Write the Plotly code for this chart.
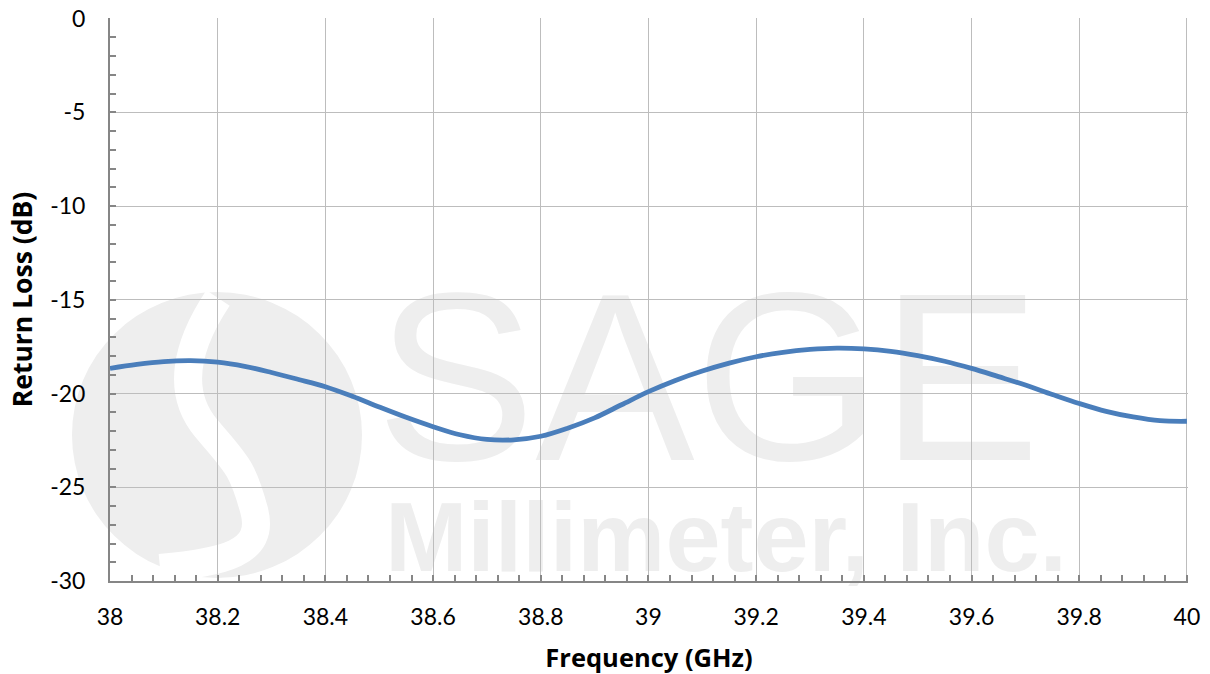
import plotly.graph_objects as go

# ---- data ----
freq_ghz = [38.00, 38.05, 38.10, 38.15, 38.20, 38.25, 38.30, 38.35, 38.40, 38.45,
            38.50, 38.55, 38.60, 38.65, 38.70, 38.75, 38.80, 38.85, 38.90, 38.95,
            39.00, 39.05, 39.10, 39.15, 39.20, 39.25, 39.30, 39.35, 39.40, 39.45,
            39.50, 39.55, 39.60, 39.65, 39.70, 39.75, 39.80, 39.85, 39.90, 39.95, 40.00]
return_loss_db = [-18.66, -18.45, -18.30, -18.25, -18.33, -18.55, -18.88, -19.25, -19.64, -20.15,
                  -20.72, -21.27, -21.77, -22.20, -22.45, -22.47, -22.28, -21.85, -21.30, -20.60,
                  -19.90, -19.30, -18.80, -18.38, -18.04, -17.80, -17.65, -17.58, -17.62, -17.75,
                  -17.98, -18.28, -18.66, -19.10, -19.55, -20.05, -20.53, -20.95, -21.25, -21.45, -21.48]
x_tick_vals = [38, 38.2, 38.4, 38.6, 38.8, 39, 39.2, 39.4, 39.6, 39.8, 40]
x_tick_text = ["38", "38.2", "38.4", "38.6", "38.8", "39", "39.2", "39.4", "39.6", "39.8", "40"]
y_tick_vals = [0, -5, -10, -15, -20, -25, -30]
y_tick_text = ["0", "-5", "-10", "-15", "-20", "-25", "-30"]

W, H = 1210, 674
ML, MR, MT, MB = 110, 22, 18, 93
PW, PH = W - ML - MR, H - MT - MB


def px(xs, ys):
    """screen pixel -> paper coordinates (for decorative watermark only)"""
    return (xs - ML) / PW, (H - MB - ys) / PH


WM = "#eeeeee"

fig = go.Figure()
fig.add_trace(go.Scatter(
    x=freq_ghz, y=return_loss_db, mode="lines",
    line=dict(color="#4a7ebb", width=4.8, shape="spline", smoothing=1.0),
    hoverinfo="skip", showlegend=False, cliponaxis=False,
))

shapes = []
# watermark logo circle
cx0, cy0 = px(72, 578)
cx1, cy1 = px(362, 292)
shapes.append(dict(type="circle", xref="paper", yref="paper", x0=cx0, y0=cy0, x1=cx1, y1=cy1,
                   fillcolor=WM, line=dict(width=0), layer="below"))
# white S swirl
pts = [(218, 298), (186, 346), (176, 392), (206, 428), (242, 466), (254, 510), (222, 562), (160, 568)]
p = [px(a, b) for a, b in pts]
path = "M {:.4f},{:.4f} C {:.4f},{:.4f} {:.4f},{:.4f} {:.4f},{:.4f} S {:.4f},{:.4f} {:.4f},{:.4f} S {:.4f},{:.4f} {:.4f},{:.4f}".format(
    p[0][0], p[0][1], p[1][0], p[1][1], p[2][0], p[2][1], p[3][0], p[3][1],
    p[4][0], p[4][1], p[5][0], p[5][1], p[6][0], p[6][1], p[7][0], p[7][1])
shapes.append(dict(type="path", xref="paper", yref="paper", path=path,
                   line=dict(color="white", width=28), layer="below"))
# SAGE text
sx0, sy0 = px(393, 450)
sx1, sy1 = px(1023, 258)
shapes.append(dict(type="rect", xref="paper", yref="paper", x0=sx0, y0=sy0, x1=sx1, y1=sy1,
                   line=dict(width=0), fillcolor="rgba(0,0,0,0)", layer="below",
                   label=dict(text="SAGE", textposition="middle center",
                              font=dict(family="Liberation Sans", size=239, color=WM))))
mx0, my0 = px(386, 570)
mx1, my1 = px(1066, 484)
shapes.append(dict(type="rect", xref="paper", yref="paper", x0=mx0, y0=my0, x1=mx1, y1=my1,
                   line=dict(width=0), fillcolor="rgba(0,0,0,0)", layer="below",
                   label=dict(text="Millimeter, Inc.", textposition="middle center",
                              font=dict(family="Liberation Sans", size=99, color=WM, weight="bold"))))

fig.update_layout(
    width=W, height=H,
    margin=dict(l=ML, r=MR, t=MT, b=MB, autoexpand=False),
    paper_bgcolor="white", plot_bgcolor="white",
    font=dict(family="Lato", color="black"),
    shapes=shapes,
    xaxis=dict(
        range=[38, 40.002], tickmode="array", tickvals=x_tick_vals, ticktext=x_tick_text,
        showgrid=True, gridcolor="#bdbdbd", gridwidth=1,
        showline=True, linecolor="#868686", linewidth=2,
        ticks="inside", ticklen=6, tickcolor="#868686", tickwidth=1.5,
        minor=dict(dtick=0.04, tick0=38, ticks="inside", ticklen=6, tickcolor="#868686",
                   tickwidth=1.5, showgrid=False),
        tickfont=dict(size=23, family="Lato"), ticklabelstandoff=14, ticklabeloverflow="allow",
        zeroline=False, automargin=False,
        title=dict(text="<b>Frequency (GHz)</b>", font=dict(size=25.5, family="Open Sans"), standoff=28),
    ),
    yaxis=dict(
        range=[-30, 0.03], tickmode="array", tickvals=y_tick_vals, ticktext=y_tick_text,
        showgrid=True, gridcolor="#bdbdbd", gridwidth=1,
        showline=True, linecolor="#868686", linewidth=2,
        ticks="inside", ticklen=6, tickcolor="#868686", tickwidth=1.5,
        minor=dict(dtick=1, tick0=0, ticks="inside", ticklen=6, tickcolor="#868686",
                   tickwidth=1.5, showgrid=False),
        tickfont=dict(size=23, family="Lato"), ticklabelstandoff=18, ticklabeloverflow="allow",
        zeroline=False, automargin=False,
        title=dict(text="<b>Return Loss (dB)</b>", font=dict(size=26.5, family="Open Sans"), standoff=10),
    ),
)

# remove the browser's default page margin so the figure fills the window exactly
fig.write_html("out.html", config={"displayModeBar": False},
               post_script="document.body.style.margin='0';")
